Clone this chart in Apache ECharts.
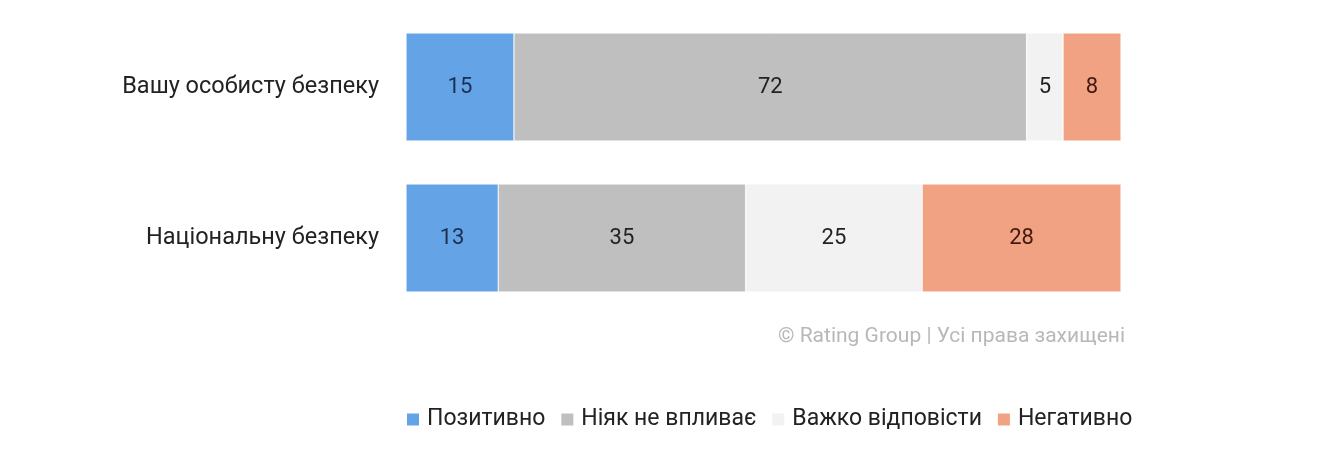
<!DOCTYPE html>
<html><head><meta charset="utf-8">
<script src="https://cdn.jsdelivr.net/npm/echarts@6/dist/echarts.min.js"></script>
<style>html,body{margin:0;padding:0;background:#fff}#c{width:1320px;height:466px}</style>
</head><body><div id="c"></div>
<script>
const categories = ['Вашу особисту безпеку', 'Національну безпеку'];
const seriesNames = ['Позитивно', 'Ніяк не впливає', 'Важко відповісти', 'Негативно'];
// shares (labels show rounded values)
const positive = [15.1, 12.9];
const noEffect = [71.7, 34.6];
const hardToSay = [5.1, 24.7];
const negative = [8.1, 27.8];
const colors = ['#63a3e6', '#bfbfbf', '#f2f2f2', '#f0a283'];
const labelColors = ['#1c2f52', '#222222', '#222222', '#3f1a0e'];
const values = [positive, noEffect, hardToSay, negative];
const FONT = 'Roboto';
const chart = echarts.init(document.getElementById('c'));
chart.setOption({
  animation: false,
  textStyle: { fontFamily: FONT },
  grid: { left: 406, right: 199, top: 11.5, bottom: 152.5 },
  xAxis: { type: 'value', min: 0, max: 100, show: false },
  yAxis: {
    type: 'category', data: categories, inverse: true,
    axisLine: { show: false }, axisTick: { show: false },
    axisLabel: { color: '#222', fontSize: 23.5, margin: 27, fontFamily: FONT }
  },
  legend: {
    left: 405, top: 408, padding: 0, itemWidth: 14, itemHeight: 14, itemGap: 14,
    icon: 'rect',
    textStyle: { color: '#222', fontSize: 23, fontFamily: FONT, padding: [0, 0, 0, 2] },
    data: seriesNames
  },
  graphic: [{
    type: 'text', right: 195, top: 326,
    style: { text: '© Rating Group | Усі права захищені', fill: '#b8b8b8', font: '21px ' + FONT }
  }],
  series: seriesNames.map((n, i) => ({
    name: n, type: 'bar', stack: 'total', data: values[i], barWidth: 108,
    itemStyle: { color: colors[i], borderColor: '#fff', borderWidth: 0.5 },
    label: {
      show: true, position: 'inside', color: labelColors[i], fontSize: 22, fontFamily: FONT,
      formatter: p => String(Math.round(p.value))
    }
  }))
});
</script></body></html>
